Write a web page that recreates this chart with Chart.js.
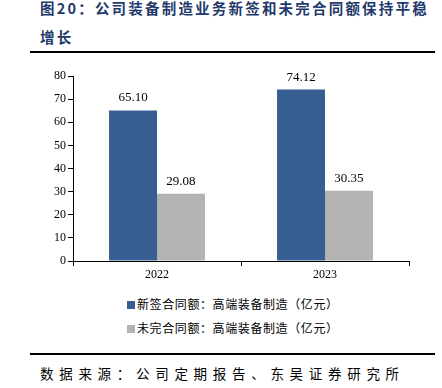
<!DOCTYPE html>
<html>
<head>
<meta charset="utf-8">
<script src="https://cdn.jsdelivr.net/npm/chart.js@4"></script>
<style>
  body { margin: 0; width: 442px; height: 388px; background: #fff; position: relative; overflow: hidden; }
  .title { position: absolute; left: 40px; font: bold 14.5px "Noto Sans CJK SC", sans-serif; color: #1f3a6b; letter-spacing: 2.2px; white-space: nowrap; line-height: 16px; }
  .rule { position: absolute; left: 30px; width: 405px; height: 2px; background: #000; }
  #wrap { position: absolute; left: 30px; top: 60px; width: 400px; height: 225px; }
  #legend { position: absolute; left: 127px; top: 296px; font: 12px "Noto Sans CJK SC", sans-serif; color: #000; letter-spacing: 0.6px; }
  #legend div { height: 24px; line-height: 16px; white-space: nowrap; }
  #legend span.box { display: inline-block; width: 8px; height: 8px; margin-right: 2px; vertical-align: 0px; }
  .source { position: absolute; left: 40px; top: 365px; font: 13.5px "Noto Sans CJK SC", sans-serif; color: #000; letter-spacing: 5.7px; white-space: nowrap; line-height: 16px; }
</style>
</head>
<body>
<div class="title" style="top:0px">图20：公司装备制造业务新签和未完合同额保持平稳</div>
<div class="title" style="top:29px">增长</div>
<div class="rule" style="top:51px"></div>
<div id="wrap"><canvas id="contractChart"></canvas></div>
<div id="legend"></div>
<div class="rule" style="top:353px"></div>
<div class="source">数据来源：公司定期报告、东吴证券研究所</div>
<script>
// ---------------------------------------------------------------- DATA ----------------------------------------------------------------
const years = ['2022', '2023'];
const newSigned = [65.10, 74.12];
const unfinished = [29.08, 30.35];
const seriesNames = ['新签合同额：高端装备制造（亿元）', '未完合同额：高端装备制造（亿元）'];
const seriesColors = ['#365e91', '#b3b3b3'];

// value labels above each bar
const barLabels = {
    id: 'barLabels',
    afterDatasetsDraw(chart) {
        const c = chart.ctx;
        c.save();
        c.font = '13px "Liberation Serif", serif';
        c.fillStyle = '#000';
        c.textAlign = 'center';
        c.textBaseline = 'bottom';
        chart.data.datasets.forEach((ds, i) => {
            chart.getDatasetMeta(i).data.forEach((bar, j) => {
                c.fillText(ds.data[j].toFixed(2), bar.x, bar.y - 6);
            });
        });
        c.restore();
    }
};

const ctx = document.getElementById('contractChart').getContext('2d');
const contractChart = new Chart(ctx, {
    type: 'bar',
    data: {
        labels: years,
        datasets: [
            { label: seriesNames[0], data: newSigned, backgroundColor: seriesColors[0] },
            { label: seriesNames[1], data: unfinished, backgroundColor: seriesColors[1] }
        ]
    },
    options: {
        responsive: true,
        maintainAspectRatio: false,
        animation: false,
        layout: { padding: { top: 16, right: 21, left: 0, bottom: 0 } },
        datasets: { bar: { categoryPercentage: 0.571, barPercentage: 1 } },
        scales: {
            x: {
                grid: { drawOnChartArea: false, color: '#000', tickLength: 5, offset: true },
                border: { color: '#000' },
                ticks: { color: '#000', font: { family: 'Liberation Serif', size: 12 }, padding: 2 },
                afterFit(scale) { scale.height = 24; }
            },
            y: {
                min: 0,
                max: 80,
                grid: { drawOnChartArea: false, color: '#000', tickLength: 5 },
                border: { color: '#000' },
                ticks: { stepSize: 10, color: '#000', font: { family: 'Liberation Serif', size: 12 }, padding: 2 },
                afterFit(scale) { scale.width = 43; }
            }
        },
        plugins: {
            legend: { display: false },
            tooltip: { enabled: false }
        }
    },
    plugins: [barLabels]
});

// legend built from the chart datasets
document.getElementById('legend').innerHTML = contractChart.data.datasets.map(ds =>
    `<div><span class="box" style="background:${ds.backgroundColor}"></span>${ds.label}</div>`
).join('');
</script>
</body>
</html>
